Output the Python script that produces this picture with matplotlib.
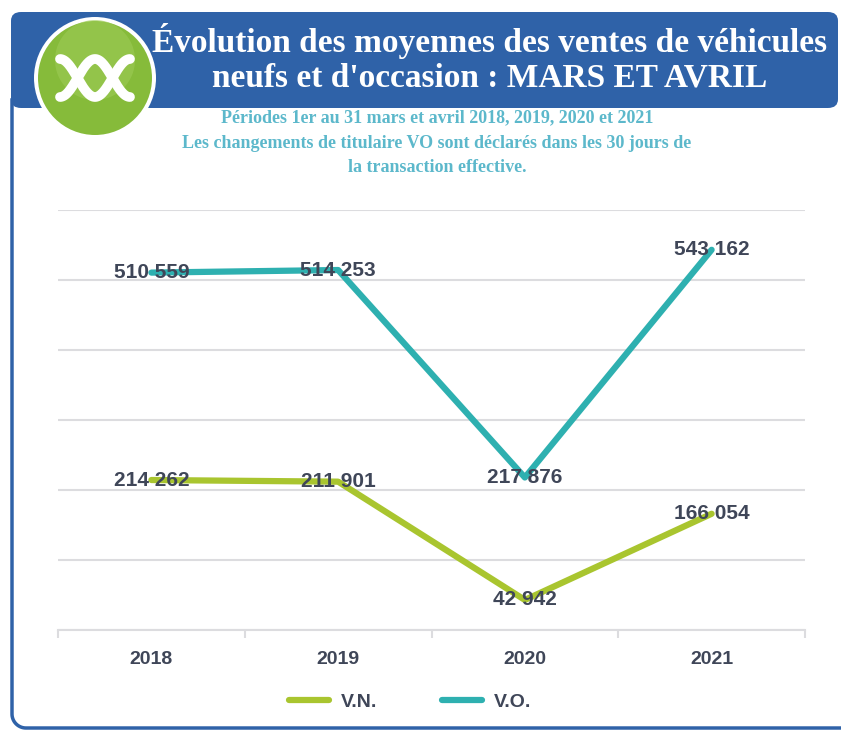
import numpy as np
import matplotlib
matplotlib.use('Agg')
import matplotlib.pyplot as plt
from matplotlib.patches import FancyBboxPatch, Circle
from matplotlib.lines import Line2D

W, H = 841, 731

years = ['2018', '2019', '2020', '2021']
vn = [214262, 211901, 42942, 166054]
vo = [510559, 514253, 217876, 543162]
vn_labels = ['214 262', '211 901', '42 942', '166 054']
vo_labels = ['510 559', '514 253', '217 876', '543 162']

title = "Évolution des moyennes des ventes de véhicules\nneufs et d'occasion : MARS ET AVRIL"
subtitle = ["Périodes 1er au 31 mars et avril 2018, 2019, 2020 et 2021",
            "Les changements de titulaire VO sont déclarés dans les 30 jours de",
            "la transaction effective."]

BLUE = '#2f62a8'
GREEN = '#a9c52f'
TEAL = '#2eb0b0'
DARK = '#3f4658'
SUB = '#5cb8cb'
GRID = '#dcdcdf'


def fx(x):
    return x / W


def fy(y):
    return 1 - y / H


fig = plt.figure(figsize=(W / 100, H / 100), dpi=100)
fig.patch.set_facecolor('white')

# left / bottom frame line with a rounded corner
r = 14
a = np.linspace(np.pi, 1.5 * np.pi, 20)
px = np.concatenate([[12], 12 + r + r * np.cos(a), [900]])
py = np.concatenate([[100], 728 - r - r * np.sin(a), [728]])
fig.add_artist(Line2D(fx(px), fy(py), transform=fig.transFigure,
                      color=BLUE, lw=2.5, zorder=0))

band = FancyBboxPatch((fx(11), fy(108)), fx(838) - fx(11), fy(12) - fy(108),
                      boxstyle='round,pad=0,rounding_size=0.012',
                      transform=fig.transFigure, facecolor=BLUE,
                      edgecolor='none', zorder=1)
fig.patches.append(band)

# logo
logo = fig.add_axes([fx(30), fy(143), fx(130), 130 / H])
logo.set_zorder(5)
logo.set_xlim(-65, 65)
logo.set_ylim(-65, 65)
logo.set_aspect('equal')
logo.axis('off')
logo.add_patch(Circle((0, 0), 61, facecolor='white', edgecolor='none'))
logo.add_patch(Circle((0, 0), 57, facecolor='#86bb3a', edgecolor='none'))
logo.add_patch(Circle((0, 18), 40, facecolor='#9dcb55', edgecolor='none', alpha=0.6))
t = np.linspace(0, 2 * np.pi, 200)
xs = -35 + 70 * t / (2 * np.pi)
logo.plot(xs, 19 * np.cos(t), color='white', lw=7, solid_capstyle='round')
logo.plot(xs, -19 * np.cos(t), color='white', lw=7, solid_capstyle='round')

fig.text(fx(490), fy(58), title, ha='center', va='center', color='white',
         fontsize=24, fontweight='bold', family='Liberation Serif',
         linespacing=1.15, zorder=4)
for i, line in enumerate(subtitle):
    fig.text(fx(437), fy(118 + 25 * i), line, ha='center', va='center',
             color=SUB, fontsize=13, fontweight='bold', family='Liberation Serif',
             zorder=4)

# chart
ax = fig.add_axes([fx(58), fy(630), fx(805) - fx(58), (630 - 210) / H])
ax.set_zorder(3)
x = np.arange(len(years))
ax.plot(x, vn, color=GREEN, lw=4.5, solid_capstyle='round', zorder=2)
ax.plot(x, vo, color=TEAL, lw=4.5, solid_capstyle='round', zorder=2)
for xi, v, s in zip(x, vn, vn_labels):
    ax.text(xi, v, s, ha='center', va='center', color=DARK, fontsize=15,
            fontweight='bold', family='Liberation Sans', zorder=3)
for xi, v, s in zip(x, vo, vo_labels):
    ax.text(xi, v, s, ha='center', va='center', color=DARK, fontsize=15,
            fontweight='bold', family='Liberation Sans', zorder=3)

ax.set_xlim(-0.5, 3.5)
ax.set_ylim(0, 600000)
ax.set_yticks(np.arange(0, 600001, 100000))
ax.yaxis.grid(True, color=GRID, lw=1.5)
ax.set_axisbelow(True)
ax.tick_params(axis='y', left=False, labelleft=False)
ax.set_xticks(x)
ax.set_xticklabels(years, fontsize=14, fontweight='bold', color=DARK,
                   family='Liberation Sans')
ax.set_xticks(np.arange(-0.5, 4, 1), minor=True)
ax.tick_params(axis='x', which='major', length=0, pad=15)
ax.tick_params(axis='x', which='minor', length=6, color=GRID, width=1.5)
for side in ['top', 'right', 'left']:
    ax.spines[side].set_visible(False)
ax.spines['bottom'].set_color(GRID)
ax.spines['bottom'].set_linewidth(1.5)
ax.set_facecolor('none')

handles = [Line2D([], [], color=GREEN, lw=4.5, solid_capstyle='round'),
           Line2D([], [], color=TEAL, lw=4.5, solid_capstyle='round')]
fig.legend(handles, ['V.N.', 'V.O.'], loc='center', bbox_to_anchor=(fx(410), fy(702)),
           ncol=2, frameon=False, handlelength=2.1, handletextpad=0.6,
           columnspacing=3.3,
           prop={'family': 'Liberation Sans', 'weight': 'bold', 'size': 14},
           labelcolor=DARK)

fig.savefig('out.png', dpi=100)
